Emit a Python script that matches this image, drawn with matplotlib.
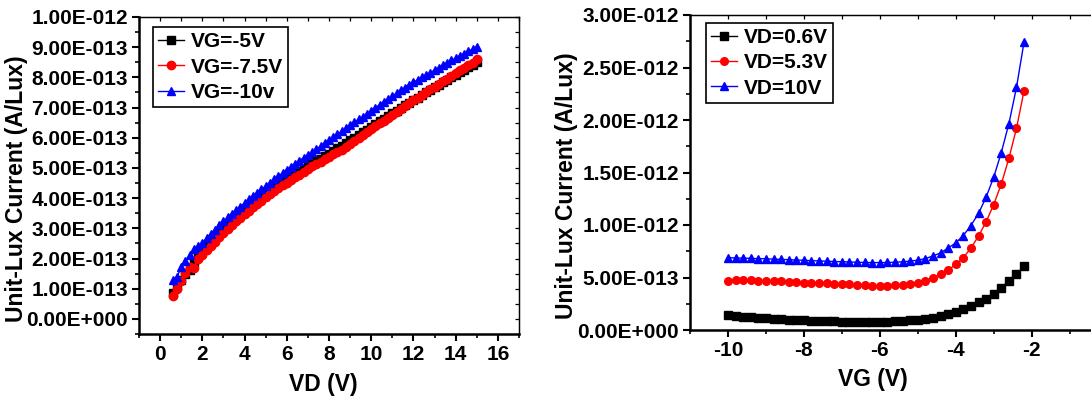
import matplotlib
matplotlib.use("Agg")
import matplotlib.pyplot as plt
import numpy as np
from matplotlib.ticker import FuncFormatter, MultipleLocator

plt.rcParams["font.family"] = ["Liberation Sans", "DejaVu Sans"]
plt.rcParams["font.weight"] = "bold"
plt.rcParams["axes.labelweight"] = "bold"
plt.rcParams["axes.unicode_minus"] = False

# ---- left panel: current vs VD, one curve per VG (units of 1e-13 A/Lux)
vd = np.round(np.arange(0.6, 15.01, 0.2), 1)
vg_labels = ["VG=-5V", "VG=-7.5V", "VG=-10v"]
i_vg5 = [0.85, 1.08, 1.30, 1.50, 1.62, 1.90, 2.08, 2.25, 2.40, 2.55,
         2.69, 2.83, 2.96, 3.09, 3.22, 3.35, 3.47, 3.59, 3.71, 3.82,
         3.93, 4.04, 4.14, 4.24, 4.34, 4.44, 4.53, 4.62, 4.71, 4.80,
         4.89, 4.98, 5.06, 5.15, 5.23, 5.31, 5.39, 5.47, 5.56, 5.65,
         5.73, 5.82, 5.91, 6.00, 6.09, 6.18, 6.27, 6.36, 6.45, 6.54,
         6.63, 6.72, 6.81, 6.90, 6.99, 7.07, 7.16, 7.25, 7.33, 7.42,
         7.51, 7.59, 7.67, 7.76, 7.84, 7.92, 8.01, 8.09, 8.17, 8.26,
         8.34, 8.42, 8.50]
i_vg75 = [0.75, 1.00, 1.26, 1.52, 1.72, 1.70, 2.00, 2.12, 2.27, 2.42,
          2.56, 2.70, 2.84, 2.97, 3.10, 3.23, 3.35, 3.47, 3.59, 3.70,
          3.81, 3.92, 4.03, 4.13, 4.23, 4.33, 4.42, 4.51, 4.60, 4.69,
          4.78, 4.87, 4.96, 5.05, 5.13, 5.21, 5.29, 5.37, 5.45, 5.53,
          5.61, 5.70, 5.80, 5.90, 5.99, 6.09, 6.19, 6.29, 6.38, 6.48,
          6.57, 6.67, 6.76, 6.86, 6.95, 7.05, 7.14, 7.24, 7.33, 7.42,
          7.51, 7.60, 7.69, 7.78, 7.87, 7.96, 8.05, 8.14, 8.23, 8.31,
          8.40, 8.49, 8.60]
i_vg10 = [1.30, 1.38, 1.72, 1.92, 2.12, 2.32, 2.42, 2.52, 2.67, 2.82,
          2.96, 3.10, 3.23, 3.36, 3.48, 3.60, 3.72, 3.84, 3.96, 4.07,
          4.18, 4.29, 4.40, 4.51, 4.62, 4.73, 4.83, 4.94, 5.04, 5.14,
          5.24, 5.34, 5.43, 5.53, 5.62, 5.72, 5.81, 5.91, 6.01, 6.11,
          6.21, 6.31, 6.41, 6.51, 6.61, 6.70, 6.80, 6.90, 7.00, 7.09,
          7.19, 7.29, 7.38, 7.48, 7.57, 7.66, 7.75, 7.84, 7.92, 8.00,
          8.08, 8.16, 8.24, 8.32, 8.40, 8.48, 8.56, 8.64, 8.72, 8.79,
          8.87, 8.94, 9.02]

# ---- right panel: current vs VG, one curve per VD (units of 1e-13 A/Lux)
vg = np.round(np.arange(-10, -2.19, 0.2), 1)
vd_labels = ["VD=0.6V", "VD=5.3V", "VD=10V"]
i_vd06 = [1.40, 1.30, 1.27, 1.22, 1.18, 1.12, 1.08, 1.05, 1.00, 0.98,
          0.95, 0.90, 0.88, 0.85, 0.82, 0.80, 0.80, 0.78, 0.75, 0.76,
          0.78, 0.80, 0.83, 0.87, 0.92, 0.98, 1.06, 1.17, 1.33, 1.52,
          1.75, 1.99, 2.29, 2.62, 3.00, 3.45, 4.02, 4.67, 5.33, 6.05]
i_vd53 = [4.70, 4.72, 4.78, 4.72, 4.70, 4.68, 4.66, 4.64, 4.60, 4.55,
          4.52, 4.50, 4.48, 4.45, 4.40, 4.37, 4.35, 4.30, 4.25, 4.22,
          4.22, 4.22, 4.25, 4.30, 4.40, 4.52, 4.70, 4.98, 5.30, 5.70,
          6.25, 6.90, 7.80, 8.95, 10.30, 11.95, 13.90, 16.35, 19.20, 22.80]
i_vd10 = [6.90, 6.85, 6.85, 6.82, 6.80, 6.78, 6.75, 6.72, 6.70, 6.66,
          6.64, 6.60, 6.58, 6.55, 6.52, 6.50, 6.48, 6.45, 6.43, 6.42,
          6.42, 6.43, 6.45, 6.50, 6.56, 6.65, 6.80, 7.05, 7.35, 7.80,
          8.30, 9.00, 9.95, 11.10, 12.65, 14.55, 16.90, 19.65, 23.10, 27.45]

SCALE = 1e-13
COLORS = ["black", "red", "blue"]
MARKERS = ["s", "o", "^"]


def origin_fmt(v, pos):
    if abs(v) < 1e-20:
        return "0.00E+000"
    mant, exp = f"{v:.2E}".split("E")
    sign = "-" if int(exp) < 0 else "+"
    return f"{mant}E{sign}{abs(int(exp)):03d}"


def style_axes(ax, xmaj, xmin, ymaj, ymin):
    ax.xaxis.set_major_locator(MultipleLocator(xmaj))
    ax.xaxis.set_minor_locator(MultipleLocator(xmin))
    ax.yaxis.set_major_locator(MultipleLocator(ymaj))
    ax.yaxis.set_minor_locator(MultipleLocator(ymin))
    ax.yaxis.set_major_formatter(FuncFormatter(origin_fmt))
    ax.tick_params(which="major", direction="out", length=5, width=1.5,
                   labelsize=15, pad=3)
    ax.tick_params(which="minor", direction="out", length=3, width=1.2)
    for side in ("left", "bottom"):
        ax.spines[side].set_linewidth(1.8)
    for side in ("top", "right"):
        ax.spines[side].set_linewidth(0.9)
    # mirrored inward ticks on top / right
    top = ax.secondary_xaxis("top")
    right = ax.secondary_yaxis("right")
    for sec, axis in ((top, top.xaxis), (right, right.yaxis)):
        axis.set_major_locator(MultipleLocator(xmaj if sec is top else ymaj))
        axis.set_minor_locator(MultipleLocator(xmin if sec is top else ymin))
        sec.tick_params(which="both", direction="in", length=3, width=0.9,
                        labeltop=False, labelright=False)
        for sp in sec.spines.values():
            sp.set_linewidth(0.9)


def add_legend(ax, anchor):
    leg = ax.legend(loc="upper left", bbox_to_anchor=anchor, borderaxespad=0,
                    fancybox=False, framealpha=1, edgecolor="black",
                    prop={"size": 15, "weight": "bold"}, handlelength=1.25,
                    handletextpad=0.3, labelspacing=0.3, borderpad=0.25)
    leg.get_frame().set_linewidth(1.2)


fig = plt.figure(figsize=(10.91, 3.98), dpi=100)

# left panel
ax1 = fig.add_axes([139 / 1091, 1 - 334 / 398, 380 / 1091, 317 / 398])
for ys, lab, c, m in zip([i_vg5, i_vg75, i_vg10], vg_labels, COLORS, MARKERS):
    ax1.plot(vd, np.array(ys) * SCALE, color=c, marker=m, markersize=6,
             lw=1, label=lab)
ax1.set_xlim(-1, 17)
ax1.set_ylim(-0.5e-13, 1e-12)
style_axes(ax1, 2, 1, 1e-13, 0.5e-13)
ax1.set_xlabel("VD (V)", fontsize=16.5)
ax1.set_ylabel("Unit-Lux Current (A/Lux)", fontsize=16.5)
ax1.xaxis.set_label_coords(0.484, -0.123)
ax1.yaxis.set_label_coords(-0.292, 0.457)
add_legend(ax1, (0.037, 0.968))

# right panel (runs off the right edge like the source)
ax2 = fig.add_axes([690 / 1091, 1 - 330 / 398, 410 / 1091, 315 / 398])
for ys, lab, c, m in zip([i_vd06, i_vd53, i_vd10], vd_labels, COLORS, MARKERS):
    ax2.plot(vg, np.array(ys) * SCALE, color=c, marker=m, markersize=5.5,
             lw=1, label=lab)
ax2.set_xlim(-11, -0.2)
ax2.set_ylim(0, 3e-12)
style_axes(ax2, 2, 1, 5e-13, 2.5e-13)
ax2.set_xlabel("VG (V)", fontsize=16.5)
ax2.set_ylabel("Unit-Lux Current (A/Lux)", fontsize=16.5)
ax2.xaxis.set_label_coords(0.446, -0.121)
ax2.yaxis.set_label_coords(-0.273, 0.457)
add_legend(ax2, (0.039, 0.975))

fig.savefig("out.png", dpi=100)
